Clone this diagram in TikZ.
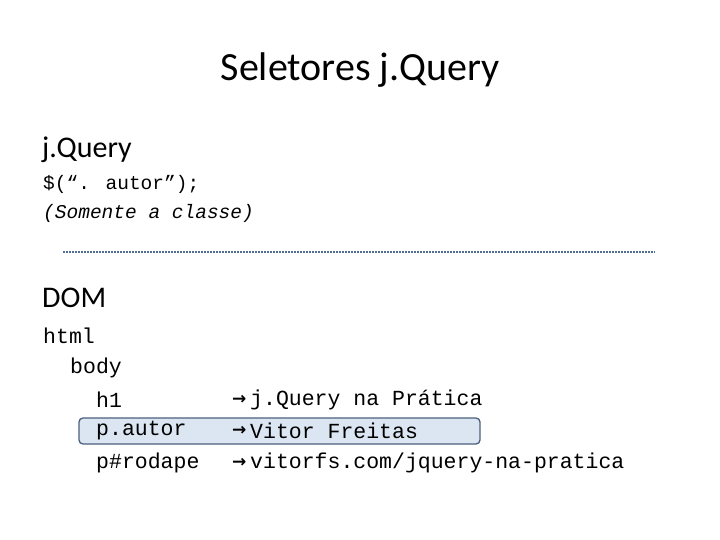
\documentclass[tikz,border=0pt]{standalone}
\usepackage{fontspec}
\setmainfont{Carlito}
\newfontfamily\mono{Liberation Mono}
\newfontfamily\arr{DejaVu Sans}
\definecolor{boxfill}{RGB}{220,230,242}
\definecolor{boxdraw}{RGB}{75,95,125}
\definecolor{dashc}{RGB}{80,110,150}
\begin{document}
\begin{tikzpicture}[x=1pt,y=-1pt,
  mt/.style={anchor=west,inner sep=0pt,font=\mono\fontsize{21.5}{24}\selectfont},
  ar/.style={anchor=west,inner sep=0pt,font=\arr\bfseries\fontsize{17}{20}\selectfont}]
\useasboundingbox (0,0) rectangle (720,540);
\node (title) at (360,70) {\fontsize{40}{46}\selectfont Seletores j.Query};
\node[anchor=west,inner sep=0pt] (jq) at (42,150) {\fontsize{30}{34}\selectfont j.Query};
\node[mt,font=\mono\fontsize{19.5}{22}\selectfont] (sel) at (43,184) {\$(“. autor”);};
\node[mt,font=\mono\itshape\fontsize{19.5}{22}\selectfont] (som) at (43,213) {(Somente a classe)};
\coordinate (d1) at (63,252); \coordinate (d2) at (655,252);
\draw[dashc,densely dashed,line width=1.2pt,dash pattern=on 2pt off 1pt] (d1) -- (d2);
\node[anchor=west,inner sep=0pt] (dom) at (42,298) {\fontsize{30}{34}\selectfont DOM};
\draw[boxdraw,fill=boxfill,rounded corners=4pt,line width=1.3pt] (79,418) rectangle (480,444);
\node[mt] (html) at (43,336) {html};
\node[mt] (body) at (70,368) {body};
\node[mt] (h1) at (96,400) {h1};
\node[mt] (pa) at (96,431) {p.autor};
\node[mt] (pr) at (96,463) {p\#rodape};
\node[ar] (a1) at (232,400) {→};
\node[ar] (a2) at (232,431) {→};
\node[ar] (a3) at (232,463) {→};
\node[mt] (t1) at (250,400) {j.Query na Prática};
\node[mt] (t2) at (250,431) {Vitor Freitas};
\node[mt] (t3) at (250,463) {vitorfs.com/jquery-na-pratica};
\end{tikzpicture}
\end{document}
